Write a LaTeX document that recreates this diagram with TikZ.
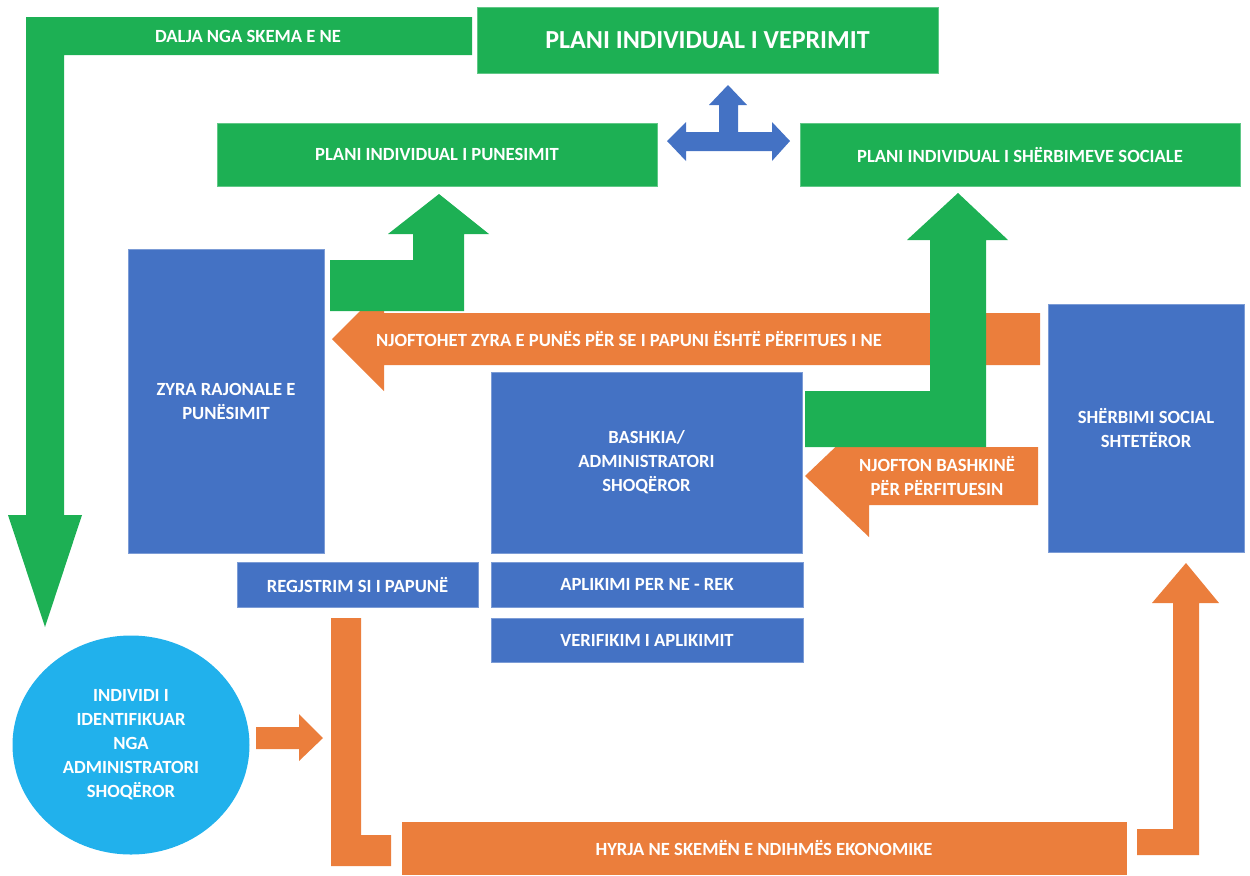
\documentclass[tikz,border=0pt]{standalone}
\usepackage{fontspec}
\setmainfont{Carlito}
\usetikzlibrary{shapes.geometric}
\definecolor{cgreen}{RGB}{29,176,84}
\definecolor{cblue}{RGB}{68,114,196}
\definecolor{corange}{RGB}{235,126,60}
\definecolor{ccyan}{RGB}{33,177,236}
\tikzset{
  box/.style={fill=cblue, draw=cblue!70!white, line width=0.4pt, text=white, inner sep=0pt, align=center, font=\fontsize{9.3}{12}\selectfont\bfseries},
  gbox/.style={box, fill=cgreen, draw=cgreen!70!white},
  lbl/.style={text=white, inner sep=0pt, align=center, font=\fontsize{9.3}{12}\selectfont\bfseries},
  garrow/.style={fill=cgreen},
  oarrow/.style={fill=corange},
  barrow/.style={fill=cblue}
}
\begin{document}
\begin{tikzpicture}[x=0.5pt,y=-0.5pt]
\useasboundingbox (0,0) rectangle (1250,875);
% boxes
\node[gbox, minimum width=230.5pt, minimum height=33pt, font=\fontsize{13}{15}\selectfont\bfseries] (veprimit) at (707.5,40) {PLANI INDIVIDUAL I VEPRIMIT};
\node[gbox, minimum width=220pt, minimum height=31.5pt] (ppun) at (437,154.5) {PLANI INDIVIDUAL I PUNESIMIT};
\node[gbox, minimum width=220pt, minimum height=31.5pt] (psoc) at (1020,154.5) {PLANI INDIVIDUAL I SHËRBIMEVE SOCIALE};
\node[box, minimum width=98pt, minimum height=152pt] (zyra) at (226,401) {ZYRA RAJONALE E\\PUNËSIMIT};
\node[box, minimum width=155.5pt, minimum height=90.5pt] (bashkia) at (646.5,462.5) {BASHKIA/\\ADMINISTRATORI\\SHOQËROR};
\node[box, minimum width=98pt, minimum height=124pt] (sss) at (1146,428) {SHËRBIMI SOCIAL\\SHTETËROR};
\node[box, minimum width=120.5pt, minimum height=22.5pt] (regj) at (357.5,584.5) {REGJSTRIM SI I PAPUNË};
\node[box, minimum width=156pt, minimum height=22.5pt] (apl) at (647,584.5) {APLIKIMI PER NE - REK};
\node[box, minimum width=156pt, minimum height=22pt] (ver) at (647,640) {VERIFIKIM I APLIKIMIT};
\node[ellipse, fill=ccyan, text=white, inner sep=0pt, minimum width=118.5pt, minimum height=109.5pt, align=center, font=\fontsize{9.3}{12}\selectfont\bfseries] (ind) at (131,745) {INDIVIDI I\\IDENTIFIKUAR\\NGA\\ADMINISTRATORI\\SHOQËROR};
\node[box, fill=corange, draw=corange, minimum width=362pt, minimum height=26pt] (hyrja) at (764,848) {HYRJA NE SKEMËN E NDIHMËS EKONOMIKE};
% green exit arrow
\fill[garrow] (26,17) -- (472,17) -- (472,55) -- (64,55) -- (64,515) -- (82,515) -- (45,627) -- (8,515) -- (26,515) -- cycle;
\node[lbl] (dalja) at (248,36) {DALJA NGA SKEMA E NE};
% blue cross arrow
\fill[barrow] (667,141) -- (686,122) -- (686,132) -- (719,132) -- (719,105) -- (709,105) -- (728,85) -- (747,105) -- (738,105) -- (738,132) -- (772,132) -- (772,122) -- (790,141) -- (772,161) -- (772,151) -- (686,151) -- (686,161) -- cycle;
% orange arrows
\fill[oarrow] (1040,313) -- (384,313) -- (384,287) -- (332,339) -- (384,391) -- (384,365) -- (1040,365) -- cycle;
\fill[oarrow] (1038,447) -- (869,447) -- (869,415) -- (805,476) -- (869,537) -- (869,505) -- (1038,505) -- cycle;
\fill[oarrow] (256,727) -- (299,727) -- (299,714) -- (323,738) -- (299,761) -- (299,749) -- (256,749) -- cycle;
\fill[oarrow] (331,618) -- (361,618) -- (361,835) -- (391,835) -- (391,866) -- (331,866) -- cycle;
\fill[oarrow] (1137,855) -- (1199,855) -- (1199,603) -- (1219,603) -- (1186,563) -- (1152,603) -- (1173,603) -- (1173,829) -- (1137,829) -- cycle;
% green bent arrows
\fill[garrow] (330,311) -- (464,311) -- (464,234) -- (489,234) -- (439,194) -- (388,234) -- (413,234) -- (413,260) -- (330,260) -- cycle;
\fill[garrow] (805,447) -- (986,447) -- (986,240) -- (1008,240) -- (958,193) -- (907,240) -- (930,240) -- (930,391) -- (805,391) -- cycle;
% arrow labels
\node[lbl] (njoft1) at (629,339) {NJOFTOHET ZYRA E PUNËS PËR SE I PAPUNI ËSHTË PËRFITUES I NE};
\node[lbl] (njoft2) at (937,476) {NJOFTON BASHKINË\\PËR PËRFITUESIN};
\end{tikzpicture}
\end{document}
